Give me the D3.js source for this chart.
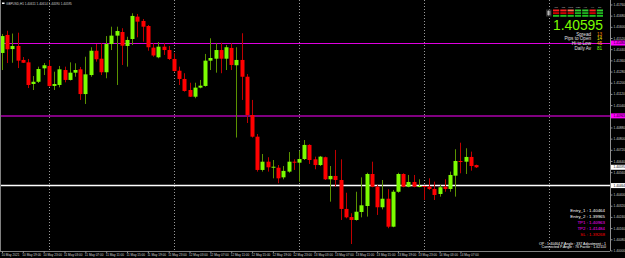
<!DOCTYPE html>
<html>
<head>
<meta charset="utf-8">
<script src="https://cdn.jsdelivr.net/npm/d3@7"></script>
<style>
  html, body { margin: 0; padding: 0; background: #000; }
  svg { display: block; font-family: "Liberation Sans", Arial, sans-serif; }
</style>
</head>
<body>
<svg id="chart" width="625" height="258"></svg>
<script>
// GBPUSD H1, bar 0 = 10 May 2021 15:00
const opens = [1.41413,1.41542,1.41441,1.41463,1.41363,1.41346,1.41191,1.41207,1.41303,1.41320,
  1.41177,1.41184,1.41291,1.41220,1.41272,1.41296,1.41119,1.41255,1.41429,1.41372,
  1.41275,1.41477,1.41537,1.41563,1.41463,1.41513,1.41673,1.41642,1.41606,1.41451,
  1.41382,1.41458,1.41434,1.41370,1.41286,1.41227,1.41148,1.41100,1.41165,1.41177,
  1.41358,1.41372,1.41434,1.41372,1.41449,1.41325,1.41363,1.41243,1.40969,1.40814,
  1.40576,1.40635,1.40592,1.40592,1.40523,1.40564,1.40635,1.40628,1.40654,1.40755,
  1.40652,1.40611,1.40667,1.40509,1.40533,1.40504,1.40297,1.40239,1.40218,1.40275,
  1.40318,1.40547,1.40456,1.40309,1.40370,1.40170,1.40420,1.40547,1.40456,1.40490,
  1.40456,1.40461,1.40456,1.40440,1.40404,1.40456,1.40440,1.40535,1.40640,1.40635,
  1.40669,1.40611];
const highs = [1.41549,1.41572,1.41552,1.41558,1.41384,1.41370,1.41248,1.41315,1.41341,1.41363,
  1.41279,1.41320,1.41315,1.41346,1.41339,1.41313,1.41386,1.41454,1.41477,1.41482,
  1.41534,1.41601,1.41601,1.41590,1.41529,1.41697,1.41692,1.41656,1.41613,1.41482,
  1.41491,1.41482,1.41463,1.41411,1.41315,1.41268,1.41200,1.41200,1.41220,1.41406,
  1.41518,1.41482,1.41486,1.41470,1.41482,1.41454,1.41554,1.41262,1.41077,1.40833,
  1.40690,1.40667,1.40647,1.40611,1.40604,1.40704,1.40652,1.40714,1.40790,1.40760,
  1.40671,1.40676,1.40671,1.40604,1.40719,1.40652,1.40413,1.40266,1.40420,1.40523,
  1.40556,1.40635,1.40468,1.40504,1.40438,1.40433,1.40556,1.40552,1.40540,1.40540,
  1.40509,1.40463,1.40516,1.40492,1.40468,1.40509,1.40564,1.40724,1.40771,1.40731,
  1.40707,1.40614];
const lows = [1.41291,1.41341,1.41343,1.41305,1.41341,1.41162,1.41148,1.41198,1.41255,1.41172,
  1.41148,1.41167,1.41203,1.41216,1.41243,1.41077,1.41048,1.41243,1.41351,1.41255,
  1.41232,1.41434,1.41184,1.41327,1.41315,1.41470,1.41525,1.41494,1.41429,1.41386,
  1.41375,1.41399,1.41363,1.41279,1.41184,1.41136,1.41098,1.41089,1.41160,1.41172,
  1.41291,1.41272,1.41268,1.41291,1.41291,1.40808,1.41077,1.40912,1.40808,1.40564,
  1.40564,1.40564,1.40516,1.40481,1.40509,1.40556,1.40576,1.40492,1.40647,1.40619,
  1.40581,1.40604,1.40504,1.40349,1.40456,1.40218,1.40230,1.40046,1.40213,1.40237,
  1.40242,1.40452,1.40254,1.40294,1.40159,1.40166,1.40413,1.40452,1.40452,1.40452,
  1.40452,1.40361,1.40433,1.40361,1.40385,1.40420,1.40420,1.40385,1.40552,1.40547,
  1.40571,1.40590];
const closes = [1.41534,1.41439,1.41463,1.41358,1.41343,1.41184,1.41207,1.41298,1.41325,1.41177,
  1.41191,1.41296,1.41220,1.41272,1.41291,1.41119,1.41260,1.41429,1.41368,1.41275,
  1.41477,1.41537,1.41570,1.41465,1.41506,1.41678,1.41637,1.41601,1.41454,1.41395,
  1.41458,1.41434,1.41370,1.41284,1.41227,1.41141,1.41100,1.41165,1.41179,1.41358,
  1.41377,1.41434,1.41372,1.41454,1.41327,1.41363,1.41243,1.40969,1.40814,1.40576,
  1.40635,1.40595,1.40599,1.40516,1.40569,1.40635,1.40628,1.40654,1.40755,1.40647,
  1.40611,1.40671,1.40509,1.40533,1.40504,1.40297,1.40237,1.40218,1.40277,1.40323,
  1.40547,1.40456,1.40309,1.40370,1.40170,1.40420,1.40547,1.40456,1.40490,1.40456,
  1.40461,1.40456,1.40440,1.40397,1.40452,1.40440,1.40540,1.40640,1.40635,1.40669,
  1.40604,1.40595];

const timeTickBars = [0,4,8,12,16,20,24,28,32,36,40,44,48,52,56,60,64,68,72,76,80,84,88];
const timeLabels = ['10 May 2021','10 May 19:00','10 May 23:00','11 May 03:00','11 May 07:00',
  '11 May 11:00','11 May 15:00','11 May 19:00','11 May 23:00','12 May 03:00','12 May 07:00',
  '12 May 11:00','12 May 15:00','12 May 19:00','12 May 23:00','13 May 03:00','13 May 07:00',
  '13 May 11:00','13 May 15:00','13 May 19:00','13 May 23:00','14 May 03:00','14 May 07:00'];
const daySeparatorBars = [9, 33, 57, 81, 105];
const priceTicks = [1.41760,1.41680,1.41600,1.41520,1.41440,1.41360,1.41280,1.41200,1.41120,
  1.41040,1.40960,1.40880,1.40800,1.40720,1.40640,1.40560,1.40480,1.40400,1.40320,1.40240,
  1.40160,1.40080,1.40000];

const symbol = 'GBPUSD,H1';
const bid = 1.40595;
const tp2 = 1.41484, tp1 = 1.40963, entry1 = 1.40464, entry2 = 1.39965, sl = 1.39268;
const infoNames = ['Spread', 'Pips to Open', 'Hi to Low', 'Daily Av'];
const infoValues = [13, 14, 45, 81];
const tfNames = ['M1', 'M5', 'M15', 'M30', 'H1', 'H4', 'D1'];
const tfTrend = [
  [-1, -1, 0, 1, 1, -1, 1],
  [-1, -1, -1, 1, 1, -1, 1],
  [1, 1, 1, 1, 1, 1, 1]
];

const W = 625, H = 258, plotRight = 610, plotBottom = 251;
const svg = d3.select('#chart');
svg.append('rect').attr('width', W).attr('height', H).attr('fill', '#000');

const x = d3.scaleLinear().domain([0, 116]).range([2, 2 + 5.21 * 116]);
const y = d3.scaleLinear().domain([1.39996, 1.41792]).range([plotBottom, 0]);
const bars = d3.range(opens.length).map(i => ({ i, o: opens[i], h: highs[i], l: lows[i], c: closes[i] }));
const crisp = v => Math.round(v) + 0.5;

const plot = svg.append('g');

// day separators
plot.selectAll('line.sep')
  .data(daySeparatorBars)
  .join('line')
  .attr('x1', d => crisp(x(d))).attr('x2', d => crisp(x(d)))
  .attr('y1', 0).attr('y2', plotBottom)
  .attr('stroke', '#9a9a9a').attr('stroke-dasharray', '1,2');

// levels
const levels = [
  { v: tp2, color: '#e000e0', w: 1, yy: v => crisp(y(v)) },
  { v: tp1, color: '#800080', w: 2, yy: v => Math.round(y(v)) },
  { v: entry1, color: '#ffffff', w: 1.5, yy: v => y(v) }
];
plot.selectAll('line.lvl')
  .data(levels)
  .join('line')
  .attr('x1', 0).attr('x2', plotRight)
  .attr('y1', d => d.yy(d.v)).attr('y2', d => d.yy(d.v))
  .attr('stroke', d => d.color).attr('stroke-width', d => d.w);

// candles
const up = d => d.c >= d.o;
plot.append('g').selectAll('line')
  .data(bars)
  .join('line')
  .attr('x1', d => crisp(x(d.i))).attr('x2', d => crisp(x(d.i)))
  .attr('y1', d => y(d.h)).attr('y2', d => y(d.l))
  .attr('stroke', d => up(d) ? '#5a9200' : '#c00000').attr('stroke-width', 1);

plot.append('g').selectAll('rect')
  .data(bars)
  .join('rect')
  .attr('x', d => Math.round(x(d.i)) - 1.5)
  .attr('width', 4)
  .attr('y', d => y(Math.max(d.o, d.c)))
  .attr('height', d => Math.max(1, Math.abs(y(d.o) - y(d.c))))
  .attr('fill', d => up(d) ? '#7cfc00' : '#ff0000');

// frame
svg.append('line').attr('x1', 0.5).attr('x2', 0.5).attr('y1', 0).attr('y2', plotBottom).attr('stroke', '#808080');
svg.append('line').attr('x1', 0).attr('x2', plotRight).attr('y1', plotBottom + 0.5).attr('y2', plotBottom + 0.5).attr('stroke', '#808080');

// price boxes on the axis
const boxes = [
  { v: tp2, bg: '#ff00ff', fg: '#000' },
  { v: tp1, bg: '#ff00ff', fg: '#000' },
  { v: bid, bg: '#ffffff', fg: '#000' },
  { v: entry1, bg: '#ffffff', fg: '#000' }
];

// price axis (labels hidden where a price box sits)
const yAxis = svg.append('g')
  .attr('transform', `translate(${plotRight + 0.5},0)`)
  .call(d3.axisRight(y).tickValues(priceTicks).tickSize(2).tickPadding(1).tickFormat(d3.format('.5f')));
yAxis.select('.domain').attr('stroke', '#909090').attr('d', `M0,0V${plotBottom}`);
yAxis.selectAll('.tick line').attr('stroke', '#909090');
yAxis.selectAll('.tick text').attr('fill', '#d0d0d0').attr('font-size', 3.2).attr('font-family', 'Liberation Sans')
  .attr('display', d => boxes.some(b => Math.abs(y(b.v) - y(d)) < 4.5) ? 'none' : null);

// time axis
const xAxis = svg.append('g')
  .attr('transform', `translate(0,${plotBottom})`)
  .call(d3.axisBottom(x).tickValues(timeTickBars).tickSize(2).tickPadding(1)
    .tickFormat((d, i) => timeLabels[i]));
xAxis.select('.domain').remove();
xAxis.selectAll('.tick line').attr('stroke', '#909090');
xAxis.selectAll('.tick text').attr('fill', '#d0d0d0').attr('font-size', 3.1)
  .attr('text-anchor', 'start').attr('dx', -1).attr('font-family', 'Liberation Sans');

const bx = svg.append('g').selectAll('g').data(boxes).join('g')
  .attr('transform', d => `translate(${plotRight + 1},${y(d.v)})`);
bx.append('rect').attr('x', 0).attr('y', -2.5).attr('width', 14).attr('height', 5).attr('fill', d => d.bg);
bx.append('text').attr('x', 2.5).attr('y', 1.2).attr('font-size', 3.2).attr('fill', d => d.fg)
  .text(d => d.v.toFixed(5));

// header
svg.append('rect').attr('x', 2).attr('y', 2.5).attr('width', 2.5).attr('height', 1.5).attr('fill', '#fff');
svg.append('text').attr('x', 6).attr('y', 5).attr('font-size', 3.1).attr('fill', '#d0d0d0')
  .text(`${symbol}  ${opens[opens.length - 1].toFixed(5)} ${highs[highs.length - 1].toFixed(5)} ${lows[lows.length - 1].toFixed(5)} ${closes[closes.length - 1].toFixed(5)}`);

// timeframe trend table
const tfX = d3.scaleBand().domain(tfNames).range([553, 603]).paddingInner(0.15);
svg.append('g').selectAll('text').data(tfNames).join('text')
  .attr('x', d => tfX(d) + tfX.bandwidth() / 2).attr('y', 8.2)
  .attr('text-anchor', 'middle').attr('font-size', 2.4).attr('fill', '#c8c8c8').text(d => d);
const trendColor = [['#ff2020', '#ff7050', '#30d030'], ['#d00000', '#d00000', '#20b020'], ['#20c020', '#20c020', '#20c020']];
tfTrend.forEach((row, r) => {
  svg.append('g').selectAll('rect').data(row).join('rect')
    .attr('x', (d, i) => tfX(tfNames[i])).attr('width', tfX.bandwidth())
    .attr('y', 9.5 + r * 2.7).attr('height', 1.9)
    .attr('fill', d => trendColor[r][d + 1]);
});
const icon = svg.append('g').attr('transform', 'translate(546,9.5)');
icon.append('rect').attr('width', 5.5).attr('height', 7).attr('fill', '#303030');
icon.append('path').attr('d', 'M1,2.5h3.5M1,4.5h3.5M2.7,1v5').attr('stroke', '#e0e0e0').attr('stroke-width', 0.8);

// big bid price
svg.append('text').attr('x', 553).attr('y', 29.5).attr('font-size', 15.5)
  .attr('textLength', 50).attr('lengthAdjust', 'spacingAndGlyphs')
  .attr('fill', '#7cfc00').text(bid.toFixed(5));

// info lines
const infoColors = ['#ff8c00', '#e8e800', '#ffb000', '#7cfc00'];
infoNames.forEach((n, i) => {
  svg.append('text').attr('x', 591).attr('y', 35.6 + i * 4.8).attr('text-anchor', 'end')
    .attr('font-size', 4.6).attr('fill', '#e0e0e0').text(n);
  svg.append('text').attr('x', 597).attr('y', 35.6 + i * 4.8)
    .attr('font-size', 4.6).attr('fill', infoColors[i]).text(infoValues[i]);
});

// trade info block
const tradeLines = [
  { t: `Entry_1 : ${entry1.toFixed(5)}`, c: '#ffffff' },
  { t: `Entry_2 : ${entry2.toFixed(5)}`, c: '#ffffff' },
  { t: `TP1 : ${tp1.toFixed(5)}`, c: '#ff00ff' },
  { t: `TP2 : ${tp2.toFixed(5)}`, c: '#ff00ff' },
  { t: `SL : ${sl.toFixed(5)}`, c: '#ff0000' }
];
svg.append('g').selectAll('text').data(tradeLines).join('text')
  .attr('x', 605).attr('y', (d, i) => 211.5 + i * 6.1)
  .attr('text-anchor', 'end').attr('font-size', 4.4).attr('fill', d => d.c).text(d => d.t);
svg.append('text').attr('x', 606).attr('y', 244.8).attr('text-anchor', 'end')
  .attr('font-size', 3.6).attr('fill', '#ffffff')
  .text(`OP : ${entry1.toFixed(5)}  P.Angle : 337  Adjustment : 1`);
svg.append('text').attr('x', 606).attr('y', 248.4).attr('text-anchor', 'end')
  .attr('font-size', 3.6).attr('fill', '#ffffff')
  .text('Connected P.Angle : 76  Factor : 1.62110');
</script>
</body>
</html>
